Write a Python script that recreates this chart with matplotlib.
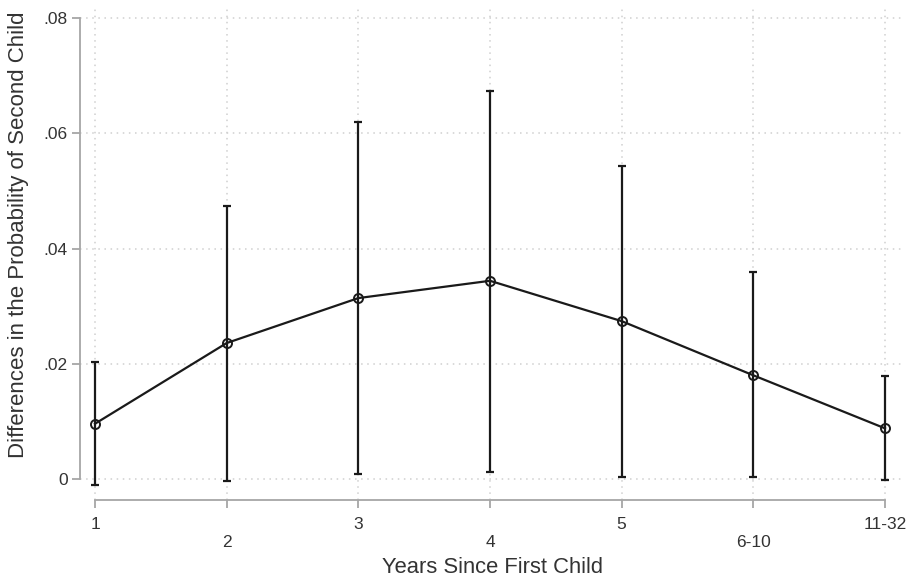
import matplotlib.pyplot as plt
from matplotlib.ticker import FuncFormatter

plt.rcParams['font.family'] = ['Liberation Sans', 'DejaVu Sans']

# valores
categorias = ['1', '2', '3', '4', '5', '6-10', '11-32']
estimativa = [0.0096, 0.0236, 0.0314, 0.0344, 0.0274, 0.0180, 0.0088]
limite_inf = [-0.0010, -0.0003, 0.0009, 0.0012, 0.0004, 0.0004, -0.0002]
limite_sup = [0.0203, 0.0474, 0.0619, 0.0674, 0.0544, 0.0359, 0.0178]
yticks = [0, 0.02, 0.04, 0.06, 0.08]

x = list(range(1, len(categorias) + 1))
erro_inf = [e - l for e, l in zip(estimativa, limite_inf)]
erro_sup = [u - e for e, u in zip(estimativa, limite_sup)]

fig = plt.figure(figsize=(9.13, 5.78), dpi=100)
ax = fig.add_axes([80 / 913, 78 / 578, 825 / 913, 492 / 578])

cor_eixo = '#a6a6a6'
cor_grade = '#cfcfcf'

ax.errorbar(x, estimativa, yerr=[erro_inf, erro_sup], fmt='none',
            ecolor='#1a1a1a', elinewidth=1.6, capsize=3.2, capthick=1.6, zorder=3)
ax.plot(x, estimativa, color='#1a1a1a', lw=1.6, marker='o', markersize=6.5,
        markerfacecolor='none', markeredgewidth=1.4, zorder=4)

ax.set_xlim(1 - 15 / 131.6, 7 + 20 / 131.6)
ax.set_ylim(-21 / 57.8 * 0.01, 0.08 + 10 / 57.8 * 0.01)

ax.set_xticks(x)
ax.set_xticklabels(categorias)
ax.set_yticks(yticks)
ax.yaxis.set_major_formatter(FuncFormatter(lambda v, p: '0' if v == 0 else f'{v:.2f}'.lstrip('0')))

ax.grid(True, color=cor_grade, linestyle=(0, (1, 3)), linewidth=1.1)
ax.set_axisbelow(True)

for lado in ['top', 'right']:
    ax.spines[lado].set_visible(False)
ax.spines['left'].set_bounds(0, 0.08)
ax.spines['bottom'].set_bounds(1, 7)
ax.spines['left'].set_color(cor_eixo)
ax.spines['bottom'].set_color(cor_eixo)
ax.spines['left'].set_linewidth(1.3)
ax.spines['bottom'].set_linewidth(1.3)

ax.tick_params(axis='both', colors=cor_eixo, length=6, width=1.3, labelcolor='#333333', labelsize=12.5)
ax.tick_params(axis='y', pad=3)
for i, tick in enumerate(ax.xaxis.get_major_ticks()):
    tick.set_pad(6 if i % 2 == 0 else 19)

ax.set_xlabel('Years Since First Child', fontsize=15.8, color='#333333', labelpad=5)
ax.set_ylabel('Differences in the Probability of Second Child', fontsize=16, color='#333333')
ax.yaxis.set_label_coords(-0.062, 0.539)

plt.savefig('out.png', dpi=100)
plt.close()
